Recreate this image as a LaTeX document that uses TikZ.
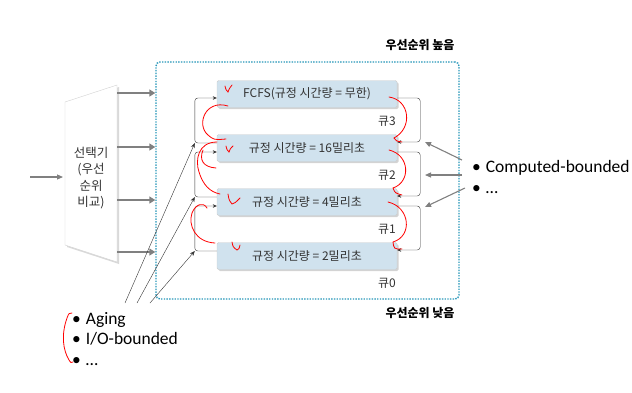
\documentclass[tikz,border=0pt]{standalone}
\usepackage{fontspec}
\setmainfont{Carlito}
\newfontfamily\kr{Noto Sans CJK KR}
\usetikzlibrary{arrows.meta,shadows}
\definecolor{qblue}{RGB}{208,226,238}
\definecolor{dotblue}{RGB}{38,150,185}
\definecolor{arrgray}{RGB}{128,128,128}

\begin{document}
\begin{tikzpicture}[x=1pt,y=-1pt]
	\tikzset{queue/.style={draw=gray!40,fill=qblue,rounded corners=1.5pt,minimum width=180pt,minimum height=27pt,inner sep=0pt,font=\kr\fontsize{12}{14}\selectfont,text=black!80,drop shadow={opacity=0.35,shadow xshift=1.5pt,shadow yshift=-1.5pt}},
		qlab/.style={font=\kr\fontsize{12}{14}\selectfont,text=black!80,inner sep=0pt},
		hdr/.style={font=\kr\bfseries\fontsize{12}{14}\selectfont,inner sep=0pt},
		prio/.style={draw=dotblue,line width=1.4pt,dash pattern=on 1.4pt off 1.3pt,rounded corners=4pt,minimum width=303pt,minimum height=237pt},
		loopline/.style={draw=black!80,thin,rounded corners=3pt,-{Stealth[length=4pt,width=3.5pt]}},
		thinarrow/.style={draw=black!80,thin,-{Stealth[length=5pt,width=4pt]}},
		fat/.style={draw=arrgray,line width=2pt,-{Triangle[length=6pt,width=7pt]}},
		graya/.style={draw=arrgray,line width=1.1pt,-{Triangle[length=6pt,width=5pt]}},
		pen/.style={draw=red,line width=0.8pt,line cap=round},
		bul/.style={font=\fontsize{17.5}{20.5}\selectfont,align=left,anchor=west,inner sep=0pt}}
	\useasboundingbox (0,0) rectangle (632,392);
	\node[prio] (prio) at (307.5,180.5) {};
	\node[hdr] (hi) at (420,45) {우선순위 높음};
	\node[hdr] (lo) at (420,313) {우선순위 낮음};
	\fill[white,draw=gray!35,drop shadow={opacity=0.3,shadow xshift=2pt,shadow yshift=-2pt}] (65,102) -- (117,85) -- (117,262) -- (65,245) -- cycle;
	\node[font=\kr\fontsize{12.5}{16.5}\selectfont,align=center,text=black!80] (sel) at (91,178) {선택기\\(우선\\순위\\비교)};
	\coordinate (in) at (30,177);
	\coordinate (selin) at (63,177);
	\draw[graya] (in) -- (selin);
	\foreach \y [count=\i] in {93,147,200,252}{
		\coordinate (o\i) at (117,\y);
		\draw[fat] (o\i) -- (o\i -| prio.west);
	}
	\foreach \i/\y/\txt in {3/94/{FCFS(규정 시간량 = 무한)},2/148/{규정 시간량 = 16밀리초},1/202/{규정 시간량 = 4밀리초},0/256/{규정 시간량 = 2밀리초}}{
		\node[queue] (q\i) at (307,\y) {\txt};
		\node[qlab] (l\i) at (387,\y+27) {큐\i};
	}
	\foreach \a/\b in {2/3,1/2,0/1}{
		\draw[loopline] ([yshift=5pt]q\a.west) -- ++(-22,0) coordinate (c\a) |- ([yshift=-4pt]q\b.west);
		\draw[loopline] ([yshift=-4pt]q\b.east) -- ++(23,0) |- ([yshift=6pt]q\a.east);
	}
	\coordinate (d2) at (125,303);
	\coordinate (d1) at (137,303);
	\coordinate (d0) at (150,303);
	\foreach \a in {2,1,0}
		\draw[thinarrow] (d\a) -- (c\a);
	\node[bul] (comp) at (472,177) {•\hspace{5pt}Computed-bounded\\•\hspace{5pt}…};
	\node[bul] (aging) at (72,339) {•\hspace{5pt}Aging\\•\hspace{5pt}I/O-bounded\\•\hspace{5pt}…};
	\coordinate (s3) at (462,160);
	\coordinate (s2) at (462,175);
	\coordinate (s1) at (465,188);
	\coordinate (e3) at (425,142);
	\coordinate (e2) at (425,175);
	\coordinate (e1) at (425,207);
	\foreach \i in {3,2,1}
		\draw[graya] (s\i) -- (e\i);
	\draw[pen] (389,97) .. controls (410,100) and (413,128) .. (394,138) .. controls (396,141) .. (402,142);
	\draw[pen] (389,150) .. controls (410,155) and (411,182) .. (393,188) .. controls (395,193) .. (402,195);
	\draw[pen] (388,202) .. controls (410,207) and (413,236) .. (393,242) .. controls (394,249) .. (402,249);
	\draw[pen] (228,106) .. controls (205,99) and (196,125) .. (208,135) .. controls (214,140) .. (226,139);
	\draw[pen] (217,142) .. controls (198,142) and (195,160) .. (199,172) .. controls (203,185) and (210,192) .. (220,194);
	\draw[pen] (203,150) .. controls (199,160) and (203,167) .. (216,168);
	\draw[pen] (215,243) .. controls (195,242) and (188,225) .. (192,213) .. controls (195,205) and (203,201) .. (207,208);
	\draw[pen] (225,86) .. controls (226,90) .. (228,92) .. controls (229,89) .. (232,85);
	\draw[pen] (226,146) .. controls (227,150) .. (229,152) .. controls (230,149) .. (233,146);
	\draw[pen] (228,194) .. controls (229,200) .. (232,204) .. controls (235,203) .. (240,198);
	\draw[pen] (232,242) .. controls (233,247) .. (237,250) .. controls (239,249) .. (240,245);
	\draw[pen] (72,313) .. controls (69,313) .. (67,318) .. controls (61,335) and (63,350) .. (69,360) .. controls (71,363) .. (73,362);
\end{tikzpicture}
\end{document}
